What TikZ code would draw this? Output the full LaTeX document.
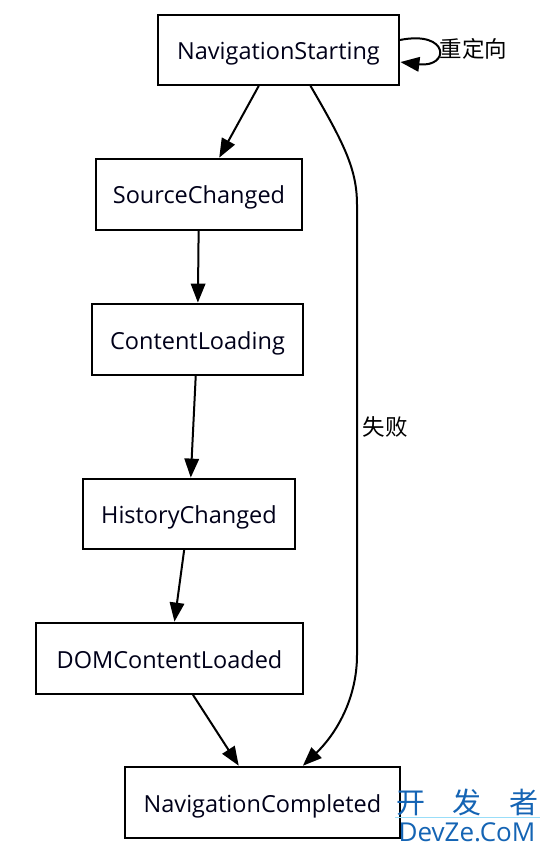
\documentclass[tikz,border=0pt]{standalone}
\usepackage{fontspec}
\setmainfont{Open Sans}
\newfontfamily\cjk{Noto Sans CJK SC}
\usetikzlibrary{arrows.meta}
\definecolor{wm}{RGB}{20,100,180}
\begin{document}
\begin{tikzpicture}[x=1pt,y=-1pt,
  box/.style={draw, line width=1.8pt, inner sep=0pt, text height=19pt, text depth=0pt, font=\fontsize{23.5}{26}\selectfont, text=black!90!blue},
  edge/.style={line width=2pt, -{Triangle[length=19pt,width=14.5pt]}, shorten >=0.5pt},
  lbl/.style={font=\cjk\fontsize{22.5}{26}\selectfont}]
\useasboundingbox (0,0) rectangle (551,853);
\fill[white] (0,0) rectangle (551,853);
\node[box, minimum width=241pt, minimum height=70pt] (ns) at (278.5,50) {NavigationStarting};
\node[box, minimum width=206pt, minimum height=71pt] (sc) at (199,194.5) {SourceChanged};
\node[box, minimum width=211pt, minimum height=71pt] (cl) at (197.5,339.5) {ContentLoading};
\node[box, minimum width=212pt, minimum height=70pt] (hc) at (189,514) {HistoryChanged};
\node[box, minimum width=267pt, minimum height=71pt] (dom) at (169.5,658.5) {DOMContentLoaded};
\node[box, minimum width=275pt, minimum height=71pt] (nc) at (262.5,802.5) {NavigationCompleted};
\draw[edge] (ns) -- (sc);
\draw[edge] (sc) -- (cl);
\draw[edge] (cl) -- (hc);
\draw[edge] (hc) -- (dom);
\draw[edge] (dom) -- (nc);
\draw[edge] ([xshift=32pt]ns.south) .. controls (345,145) and (357,170) .. (357,205)
  -- (357,655) .. controls (357,700) and (335,735) .. ([xshift=40pt]nc.north);
\node[lbl, anchor=west] (fail) at (359,427) {失败};
\draw[edge] ([yshift=10pt]ns.east) .. controls (450,30) and (450,68) .. ([yshift=-12pt]ns.east);
\node[lbl, anchor=west] (redir) at (436,49) {重定向};
\node[font=\cjk\fontsize{29}{32}\selectfont, text=wm, anchor=center] (wm1) at (467.5,802) {开\hspace{0.95em}发\hspace{0.95em}者};
\draw[cyan!40, line width=0.6pt] (395,817) -- (540,817);
\node[font=\fontsize{26}{28}\selectfont, text=wm, anchor=center] (wm2) at (467,832) {DevZe.CoM};
\end{tikzpicture}
\end{document}
